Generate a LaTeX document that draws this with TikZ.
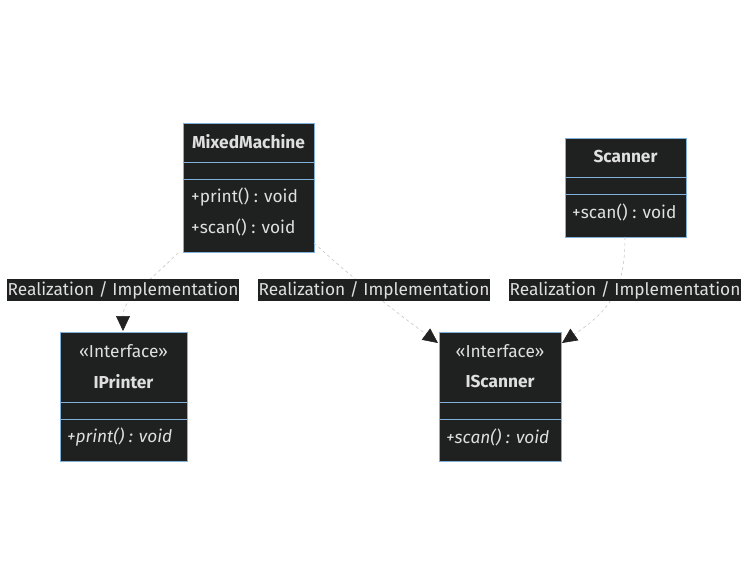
\documentclass[tikz,border=0pt]{standalone}
\usepackage{fontspec}
\setmainfont{Fira Sans}
\usetikzlibrary{arrows.meta}
\definecolor{boxfill}{HTML}{1F2020}
\definecolor{boxline}{HTML}{81B1DB}
\definecolor{txt}{HTML}{E0DFDF}
\definecolor{edge}{HTML}{C8C8C8}
\definecolor{tipc}{HTML}{222222}
\newcommand{\fsz}{\fontsize{17.3}{20}\selectfont}
\tikzset{
  cls/.style={draw=boxline, fill=boxfill, line width=0.9pt, inner sep=0pt},
  ctext/.style={text=txt, font=\fsz, inner sep=0pt},
  ltext/.style={text=txt, fill=boxfill, font=\fsz, inner xsep=1pt, inner ysep=2.5pt},
  rel/.style={draw=edge, dashed, dash pattern=on 3pt off 3pt, line width=0.6pt,
    -{Triangle[length=15pt,width=14pt,fill=tipc,color=tipc]}},
}
\begin{document}
\begin{tikzpicture}[x=1pt,y=-1pt]
\useasboundingbox (0,0) rectangle (749,585);
\fill[white] (0,0) rectangle (749,585);
% MixedMachine
\node[cls, minimum width=131pt, minimum height=129pt, anchor=north west] (mm) at (183,123) {};
\draw[boxline, line width=0.9pt] (183,162) -- (314,162) (183,179) -- (314,179);
\node[ctext, font=\fsz\bfseries] (mmt) at (248.5,142) {MixedMachine};
\node[ctext, anchor=west] (mm1) at (191,197) {+print() : void};
\node[ctext, anchor=west] (mm2) at (191,227) {+scan() : void};
% Scanner
\node[cls, minimum width=121pt, minimum height=99pt, anchor=north west] (sc) at (565,138) {};
\draw[boxline, line width=0.9pt] (565,177) -- (686,177) (565,194) -- (686,194);
\node[ctext, font=\fsz\bfseries] (sct) at (625.5,157) {Scanner};
\node[ctext, anchor=west] (sc1) at (572,212) {+scan() : void};
% IPrinter
\node[cls, minimum width=127pt, minimum height=129pt, anchor=north west] (ip) at (60,332) {};
\draw[boxline, line width=0.9pt] (60,402) -- (187,402) (60,419) -- (187,419);
\node[ctext] (ips) at (123.5,351) {«Interface»};
\node[ctext, font=\fsz\bfseries] (ipt) at (123.5,382) {IPrinter};
\node[ctext, anchor=west, font=\fsz\itshape] (ip1) at (67,437) {+print() : void};
% IScanner
\node[cls, minimum width=122pt, minimum height=129pt, anchor=north west] (is) at (439,332) {};
\draw[boxline, line width=0.9pt] (439,402) -- (561,402) (439,419) -- (561,419);
\node[ctext] (iss) at (500,351) {«Interface»};
\node[ctext, font=\fsz\bfseries] (ist) at (500,382) {IScanner};
\node[ctext, anchor=west, font=\fsz\itshape] (is1) at (446,437) {+scan() : void};
% anchors for edges
\coordinate (a1s) at (178,253);
\coordinate (a1e) at (123,331);
\coordinate (a2s) at (314,243);
\coordinate (a2e) at (438,343);
\coordinate (a3s) at (625,237);
\coordinate (a3e) at (562,343);
% edges
\draw[rel] (a1s) .. controls (140,290) and (123,300) .. (a1e);
\draw[rel] (a2s) .. controls (360,285) and (400,315) .. (a2e);
\draw[rel] (a3s) .. controls (625,290) and (610,310) .. (a3e);
% labels
\node[ltext] (l1) at (123,290) {Realization / Implementation};
\node[ltext] (l2) at (374,290) {Realization / Implementation};
\node[ltext] (l3) at (625,290) {Realization / Implementation};
\end{tikzpicture}
\end{document}
